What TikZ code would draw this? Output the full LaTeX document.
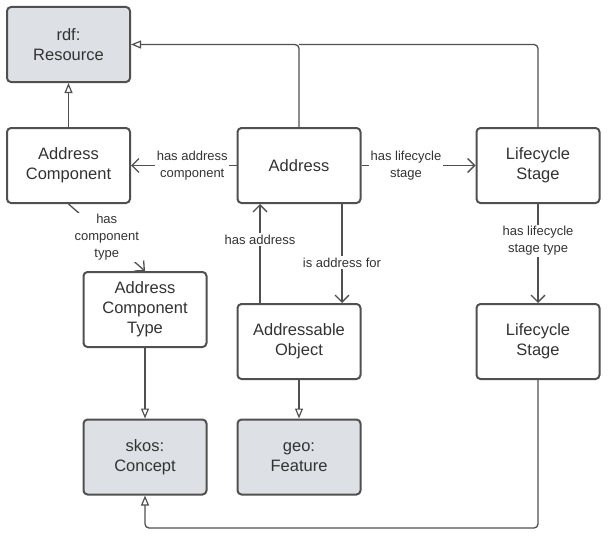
\documentclass[tikz,border=0pt]{standalone}
\usepackage{fontspec}
\setmainfont{Liberation Sans}
\usetikzlibrary{arrows.meta,calc}
\definecolor{edgec}{HTML}{505050}
\definecolor{textc}{HTML}{333333}
\definecolor{grayfill}{HTML}{DDE0E4}
\tikzset{
  box/.style={draw=edgec, line width=2pt, rounded corners=4pt, minimum width=123pt, minimum height=75pt,
    align=center, text=textc, font=\fontsize{16.5}{20}\selectfont, inner sep=2pt, fill=white},
  extbox/.style={box, fill=grayfill},
  gen/.style={draw=edgec, line width=1.3pt, -{Triangle[open, length=10pt, width=8pt, line width=1.2pt]}},
  assoc/.style={draw=edgec, line width=1.3pt, -{Straight Barb[length=7pt, width=14pt, line width=1.3pt]}},
  lbl/.style={fill=white, text=textc, font=\fontsize{13}{17}\selectfont, align=center, inner sep=1.5pt}
}
\begin{document}
\begin{tikzpicture}[x=1pt, y=-1pt]
\useasboundingbox (0,0) rectangle (609,535);
\node[extbox] (rdfres) at (68.5,44.5) {rdf:\\Resource};
\node[box] (addcomp) at (68.5,165.5) {Address\\Component};
\node[box] (address) at (299,165.5) {Address};
\node[box] (lcs1) at (538,165.5) {Lifecycle\\Stage};
\node[box] (act) at (145,309.5) {Address\\Component\\Type};
\node[box] (ao) at (299,341.5) {Addressable\\Object};
\node[box] (lcs2) at (538,341.5) {Lifecycle\\Stage};
\node[extbox] (skos) at (145,457) {skos:\\Concept};
\node[extbox] (geo) at (299,457) {geo:\\Feature};

% generalisations
\draw[gen] (addcomp.north) -- (rdfres.south);
\draw[gen, rounded corners=4pt] (address.north) |- (rdfres.east);
\draw[draw=edgec, line width=1.3pt, rounded corners=4pt] (lcs1.north) |- (address.north |- rdfres.east);
\draw[gen] (act.south) -- (skos.north);
\draw[gen] (ao.south) -- (geo.north);
\draw[gen, rounded corners=4pt] (lcs2.south) -- ++(0,148) -| (skos.south);

% associations
\draw[assoc] (address.west) -- node[lbl, pos=0.42] {has address\\component} (addcomp.east);
\draw[assoc] (address.east) -- node[lbl, pos=0.39] {has lifecycle\\stage} (lcs1.west);
\coordinate (acstart) at (addcomp.south);
\coordinate (acend) at (act.north);
\draw[assoc] (acstart) -- node[lbl, pos=0.5] {has\\component\\type} (acend);
\draw[assoc] ($(ao.north)+(-39,0)$) -- node[lbl, pos=0.64] {has address} ($(address.south)+(-39,0)$);
\draw[assoc] ($(address.south)+(43,0)$) -- node[lbl, pos=0.59] {is address for} ($(ao.north)+(43,0)$);
\draw[assoc] (lcs1.south) -- node[lbl, pos=0.37] {has lifecycle\\stage type} (lcs2.north);
\end{tikzpicture}
\end{document}
